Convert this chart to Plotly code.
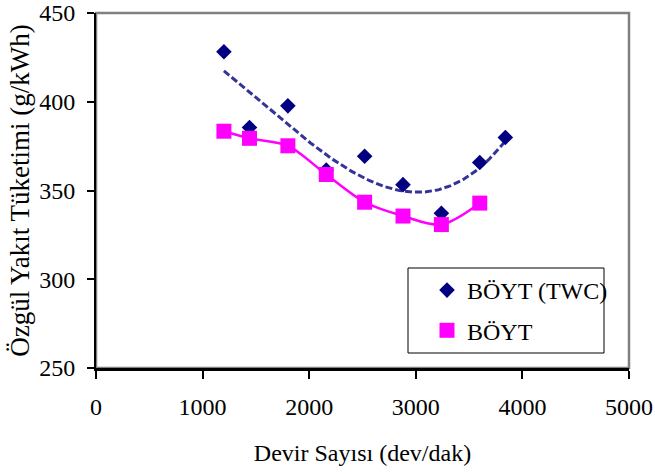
import numpy as np
import plotly.graph_objects as go

# Engine speed (rpm) and brake specific fuel consumption (g/kWh)
rpm_twc = [1200, 1440, 1800, 2160, 2520, 2880, 3240, 3600, 3840]
bsfc_twc = [428.2, 385.5, 397.7, 361.5, 369.3, 353.3, 337.2, 365.8, 379.9]

rpm_base = [1200, 1440, 1800, 2160, 2520, 2880, 3240, 3600]
bsfc_base = [383.4, 379.4, 375.2, 359.0, 343.4, 335.6, 330.8, 342.9]

x_ticks = [0, 1000, 2000, 3000, 4000, 5000]
y_ticks = [250, 300, 350, 400, 450]

# Polynomial trend line for the TWC series
coef = np.polyfit(rpm_twc, bsfc_twc, 3)
trend_x = np.linspace(min(rpm_twc), max(rpm_twc), 200)
trend_y = np.polyval(coef, trend_x)

FONT = "Liberation Serif"
L, R, T, B = 96, 26, 13, 106
W, H = 655, 474
pw, ph = W - L - R, H - T - B

def px_x(p):
    return (p - L) / pw

def px_y(p):
    return (H - B - p) / ph

fig = go.Figure()

fig.add_trace(go.Scatter(
    x=trend_x, y=trend_y, mode="lines",
    line=dict(color="#333399", width=3, dash="7px,3px"),
    showlegend=False, hoverinfo="skip"))

fig.add_trace(go.Scatter(
    x=rpm_base, y=bsfc_base, mode="lines",
    line=dict(color="#FF00FF", width=2.5, shape="spline", smoothing=0.9),
    showlegend=False, hoverinfo="skip"))

fig.add_trace(go.Scatter(
    x=rpm_twc, y=bsfc_twc, mode="markers", name="BÖYT (TWC)",
    marker=dict(symbol="diamond", size=12, color="#000080"),
    legendgroup="a"))

fig.add_trace(go.Scatter(
    x=rpm_base, y=bsfc_base, mode="markers", name="BÖYT",
    marker=dict(symbol="square", size=15, color="#FF00FF"),
    legendgroup="b"))

# Plot-area frame (grey) and legend box
fig.add_shape(type="rect", xref="paper", yref="paper", x0=0, y0=0, x1=1, y1=1,
              line=dict(color="#808080", width=2.5), layer="below")
fig.add_shape(type="rect", xref="paper", yref="paper",
              x0=px_x(408), x1=px_x(604), y0=px_y(353), y1=px_y(268),
              line=dict(color="#000000", width=1), fillcolor="white", layer="above")

fig.update_layout(
    width=W, height=H,
    margin=dict(l=L, r=R, t=T, b=B, autoexpand=False),
    paper_bgcolor="white", plot_bgcolor="white",
    font=dict(family=FONT, size=24, color="black"),
    showlegend=True,
    legend=dict(
        x=px_x(427), y=px_y(268), xanchor="left", yanchor="top",
        bgcolor="rgba(0,0,0,0)", borderwidth=0,
        traceorder="grouped", tracegroupgap=6,
        font=dict(family=FONT, size=24, color="black")),
    xaxis=dict(
        range=[0, 5000], tickvals=x_ticks, ticktext=[str(v) for v in x_ticks],
        showgrid=False, zeroline=False, automargin=False,
        showline=True, linecolor="black", linewidth=2.5,
        ticks="outside", ticklen=8, tickwidth=1.5, tickcolor="black",
        ticklabelstandoff=7,
        tickfont=dict(family=FONT, size=24),
        title=dict(text="Devir Sayısı (dev/dak)", font=dict(family=FONT, size=24), standoff=26)),
    yaxis=dict(
        range=[250, 450], tickvals=y_ticks, ticktext=[str(v) for v in y_ticks],
        showgrid=False, zeroline=False, automargin=False,
        showline=True, linecolor="black", linewidth=2,
        ticks="outside", ticklen=7, tickwidth=1.5, tickcolor="black",
        ticklabelstandoff=7,
        tickfont=dict(family=FONT, size=24),
        title=dict(text="Özgül Yakıt Tüketimi (g/kWh)", font=dict(family=FONT, size=27), standoff=2)),
)

fig.write_html("out.html")
